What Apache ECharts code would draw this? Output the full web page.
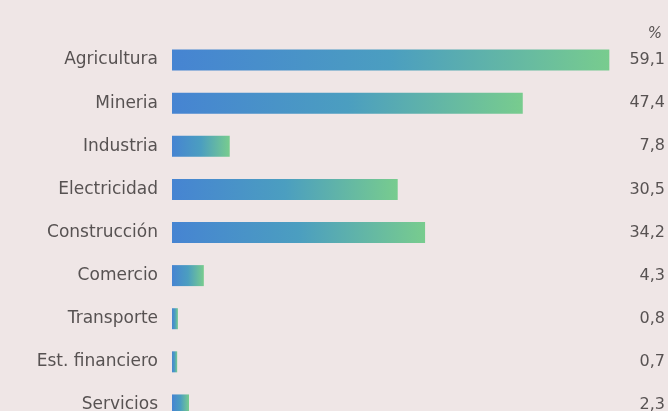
<!DOCTYPE html>
<html>
<head>
<meta charset="utf-8">
<script src="https://cdn.jsdelivr.net/npm/echarts@6/dist/echarts.min.js"></script>
<style>
  html, body { margin: 0; padding: 0; background: #efe6e6; overflow: hidden; }
  #chart { width: 668px; height: 432px; }
</style>
</head>
<body>
<div id="chart"></div>
<script>
// Sectors, top to bottom
const sectors = ['Agricultura', 'Mineria', 'Industria', 'Electricidad', 'Construcción',
                 'Comercio', 'Transporte', 'Est. financiero', 'Servicios'];
// Share per sector, %
const shares = [59.1, 47.4, 7.8, 30.5, 34.2, 4.3, 0.8, 0.7, 2.3];
const unitLabel = '%';

const fontFamily = '"DejaVu Sans", sans-serif';
const textColor = '#575252';

const fmt = v => v.toFixed(1).replace('.', ',');

const chart = echarts.init(document.getElementById('chart'), null, { renderer: 'canvas' });

chart.setOption({
  backgroundColor: '#efe6e6',
  animation: false,
  grid: { left: 172, top: 38.5, width: 445, height: 388 },
  title: {
    text: unitLabel,
    right: 1, top: 22,
    textStyle: { fontFamily, fontSize: 15, fontWeight: 'normal', color: textColor, fontStyle: 'italic' }
  },
  xAxis: {
    type: 'value', min: 0, max: 60,
    show: false
  },
  yAxis: [
    {
      type: 'category', data: sectors, inverse: true,
      axisLine: { show: false }, axisTick: { show: false }, splitLine: { show: false },
      axisLabel: { margin: 14, color: textColor, fontFamily, fontSize: 17 }
    },
    {
      type: 'category', data: shares.map(fmt), inverse: true, position: 'right',
      axisLine: { show: false }, axisTick: { show: false }, splitLine: { show: false },
      axisLabel: { margin: 49, align: 'right', color: textColor, fontFamily, fontSize: 16 }
    }
  ],
  series: [{
    type: 'bar',
    data: shares,
    barWidth: 21,
    itemStyle: {
      color: new echarts.graphic.LinearGradient(0, 0, 1, 0, [
        { offset: 0, color: '#4684d2' },
        { offset: 0.5, color: '#4b9ec0' },
        { offset: 1, color: '#78cc8e' }
      ])
    }
  }]
});
</script>
</body>
</html>
